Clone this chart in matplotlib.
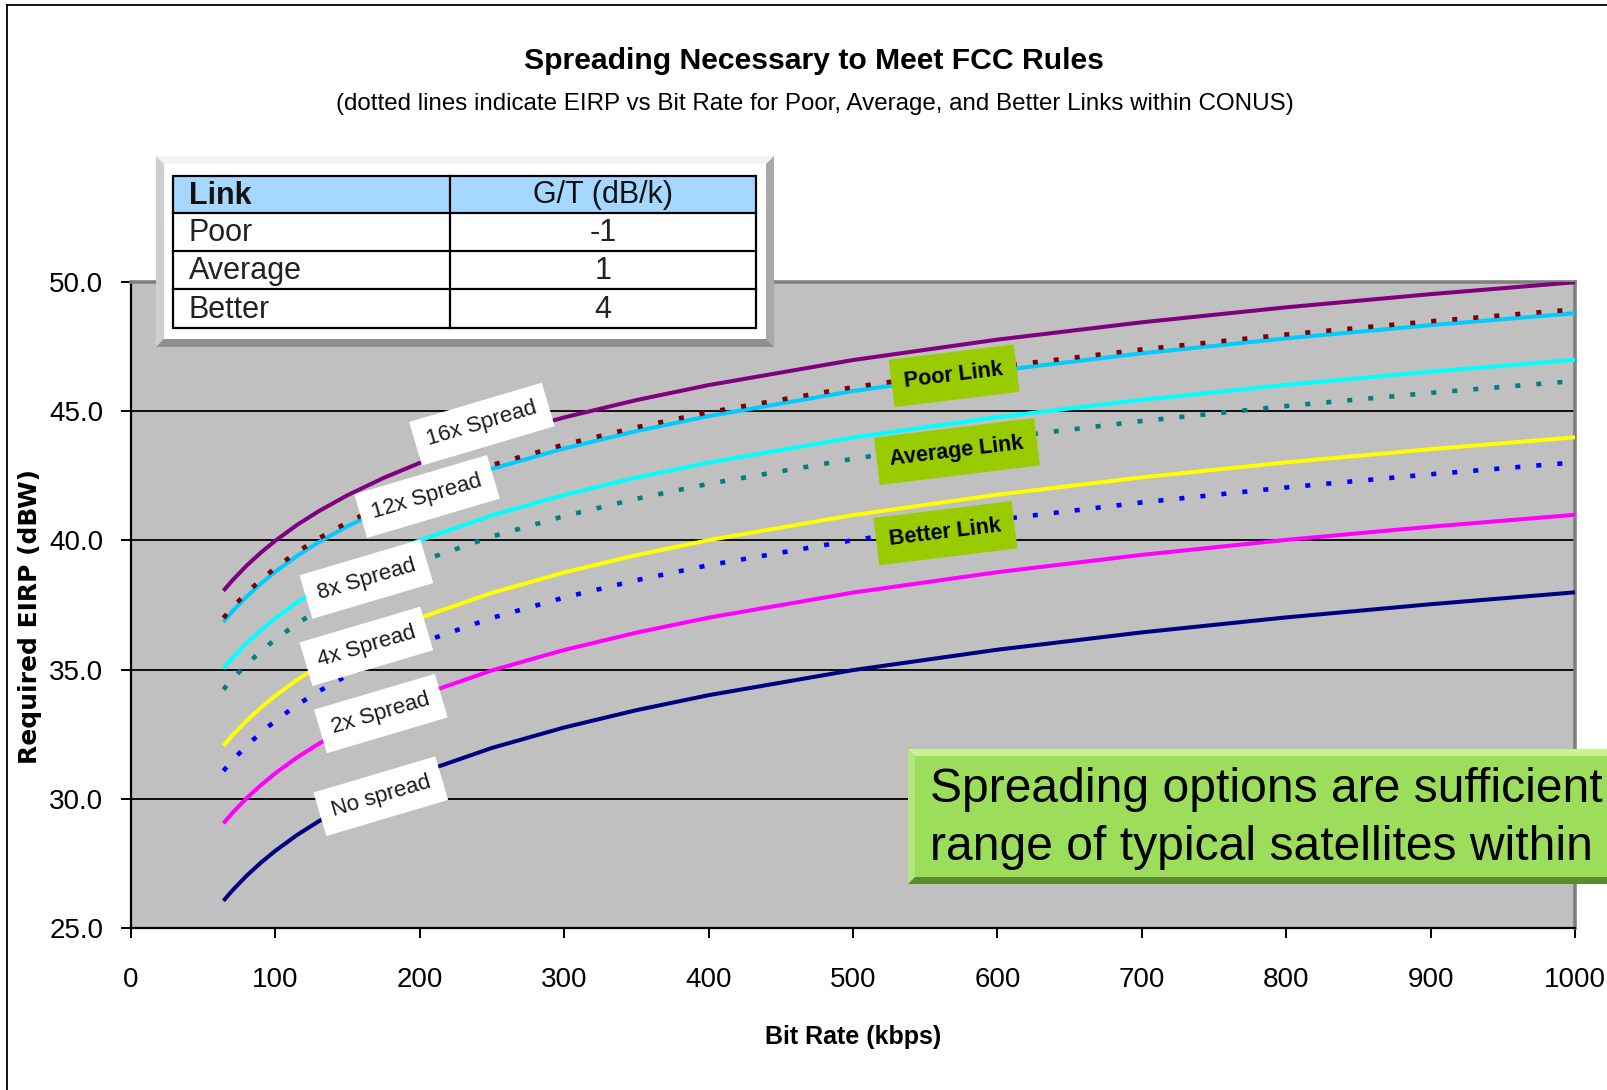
import numpy as np
import matplotlib
matplotlib.use("Agg")
import matplotlib.pyplot as plt
from matplotlib.patches import Rectangle, Polygon
from matplotlib.lines import Line2D
from matplotlib.ticker import FormatStrFormatter
from matplotlib import font_manager

# ---------------- data ----------------
bit_rate = [64, 70, 80, 90, 100, 115, 130, 150, 175, 200, 250, 300, 350, 400,
            500, 600, 700, 800, 900, 1000]

no_spread = [26.05, 26.44, 27.02, 27.53, 27.99, 28.60, 29.13, 29.75, 30.42, 31.00,
             31.97, 32.76, 33.43, 34.01, 34.98, 35.77, 36.44, 37.02, 37.53, 37.99]
spread_2x = [29.05, 29.44, 30.02, 30.53, 30.99, 31.60, 32.13, 32.75, 33.42, 34.00,
             34.97, 35.76, 36.43, 37.01, 37.98, 38.77, 39.44, 40.02, 40.53, 40.99]
spread_4x = [32.05, 32.44, 33.02, 33.53, 33.99, 34.60, 35.13, 35.75, 36.42, 37.00,
             37.97, 38.76, 39.43, 40.01, 40.98, 41.77, 42.44, 43.02, 43.53, 43.99]
spread_8x = [35.05, 35.44, 36.02, 36.53, 36.99, 37.60, 38.13, 38.75, 39.42, 40.00,
             40.97, 41.76, 42.43, 43.01, 43.98, 44.77, 45.44, 46.02, 46.53, 46.99]
spread_12x = [36.85, 37.24, 37.82, 38.33, 38.79, 39.40, 39.93, 40.55, 41.22, 41.80,
              42.77, 43.56, 44.23, 44.81, 45.78, 46.57, 47.24, 47.82, 48.33, 48.79]
spread_16x = [38.05, 38.44, 39.02, 39.53, 39.99, 40.60, 41.13, 41.75, 42.42, 43.00,
              43.97, 44.76, 45.43, 46.01, 46.98, 47.77, 48.44, 49.02, 49.53, 49.99]

poor_link = [37.00, 37.39, 37.97, 38.48, 38.94, 39.55, 40.08, 40.70, 41.37, 41.95,
             42.92, 43.71, 44.38, 44.96, 45.93, 46.72, 47.39, 47.97, 48.48, 48.94]
average_link = [34.23, 34.62, 35.20, 35.71, 36.17, 36.78, 37.31, 37.93, 38.60, 39.18,
                40.15, 40.94, 41.61, 42.19, 43.16, 43.95, 44.62, 45.20, 45.71, 46.17]
better_link = [31.08, 31.47, 32.05, 32.56, 33.02, 33.63, 34.16, 34.78, 35.45, 36.03,
               37.00, 37.79, 38.46, 39.04, 40.01, 40.80, 41.47, 42.05, 42.56, 43.02]

spread_names = ["No spread", "2x Spread", "4x Spread", "8x Spread", "12x Spread", "16x Spread"]
spread_colors = ["#000080", "#FF00FF", "#FFFF00", "#00FFFF", "#00CCFF", "#800080"]
spread_series = [no_spread, spread_2x, spread_4x, spread_8x, spread_12x, spread_16x]
# label anchor positions (bit rate, EIRP)
spread_label_pos = [(173, 30.1), (173, 33.3), (163, 35.9), (163, 38.5), (205, 41.7), (243, 44.5)]

link_names = ["Poor Link", "Average Link", "Better Link"]
link_colors = ["#800000", "#008080", "#0000FF"]
link_series = [poor_link, average_link, better_link]
link_label_pos = [(570, 46.37), (572, 43.44), (564, 40.28)]

table_links = ["Poor", "Average", "Better"]
table_gt = ["-1", "1", "4"]

title = "Spreading Necessary to Meet FCC Rules"
subtitle = "(dotted lines indicate EIRP vs Bit Rate for Poor, Average, and Better Links within CONUS)"
note_lines = ["Spreading options are sufficient to cover the",
              "range of typical satellites within CONUS"]

# ---------------- fonts ----------------
names = {f.name for f in font_manager.fontManager.ttflist}
if "Liberation Sans Narrow" in names:
    NARROW, NS = "Liberation Sans Narrow", 1.0
else:
    NARROW, NS = "Liberation Sans", 0.82
SANS = "Liberation Sans"

W, H = 1608, 1090
fig = plt.figure(figsize=(W / 100, H / 100), dpi=100)
fig.patch.set_facecolor("white")

# main axes: left 131, right 1575, top 282, bottom 928 (pixels)
ax = fig.add_axes([131 / W, 1 - 928 / H, (1575 - 131) / W, (928 - 282) / H])
ax.set_facecolor("#C0C0C0")
ax.set_xlim(0, 1000)
ax.set_ylim(25, 50)
ax.set_xticks(np.arange(0, 1001, 100))
ax.set_yticks(np.arange(25, 50.1, 5))
ax.yaxis.set_major_formatter(FormatStrFormatter("%.1f"))
ax.set_axisbelow(True)
ax.yaxis.grid(True, color="black", lw=1.3)
ax.xaxis.grid(False)
for s in ["left", "bottom"]:
    ax.spines[s].set_color("black")
    ax.spines[s].set_linewidth(1.6)
for s in ["top", "right"]:
    ax.spines[s].set_color("#808080")
    ax.spines[s].set_linewidth(2.6)
TICK_FS = 22 if NS == 1.0 else 20
ax.tick_params(axis="x", direction="out", length=7, width=1.4, pad=21,
               labelsize=TICK_FS, colors="black")
ax.tick_params(axis="y", direction="out", length=7, width=1.4, pad=13,
               labelsize=TICK_FS, colors="black")
for lab in ax.get_xticklabels() + ax.get_yticklabels():
    lab.set_fontfamily(NARROW)

for vals, c in zip(spread_series, spread_colors):
    ax.plot(bit_rate, vals, color=c, lw=2.9, solid_capstyle="butt", zorder=3)
for vals, c in zip(link_series, link_colors):
    ax.plot(bit_rate, vals, color=c, lw=3.3, linestyle=(0, (1.1, 3.5)),
            dash_capstyle="butt", zorder=3)

for name, (x, y) in zip(spread_names, spread_label_pos):
    ax.text(x, y, name, rotation=16.5, rotation_mode="anchor", ha="center", va="center",
            fontsize=16, family=SANS, color="#1a1a1a", zorder=6,
            bbox=dict(boxstyle="square,pad=0.55", fc="white", ec="none"))

for name, (x, y) in zip(link_names, link_label_pos):
    ax.text(x, y, name, rotation=7, rotation_mode="anchor", ha="center", va="center",
            fontsize=15.5, family=SANS, weight="bold", color="black", zorder=6,
            bbox=dict(boxstyle="square,pad=0.62", fc="#99CC00", ec="none"))

# ---------------- overlay for decorations (pixel coords) ----------------
ov = fig.add_axes([0, 0, 1, 1], zorder=5)
ov.set_xlim(0, W)
ov.set_ylim(H, 0)
ov.axis("off")
ov.patch.set_alpha(0)


def bevel(x0, y0, x1, y1, b, top, left, right, bottom, fill):
    ov.add_patch(Polygon([(x0, y0), (x1, y0), (x1 - b, y0 + b), (x0 + b, y0 + b)], closed=True, fc=top, ec="none"))
    ov.add_patch(Polygon([(x0, y0), (x0 + b, y0 + b), (x0 + b, y1 - b), (x0, y1)], closed=True, fc=left, ec="none"))
    ov.add_patch(Polygon([(x1, y0), (x1, y1), (x1 - b, y1 - b), (x1 - b, y0 + b)], closed=True, fc=right, ec="none"))
    ov.add_patch(Polygon([(x0, y1), (x1, y1), (x1 - b, y1 - b), (x0 + b, y1 - b)], closed=True, fc=bottom, ec="none"))
    ov.add_patch(Rectangle((x0 + b, y0 + b), x1 - x0 - 2 * b, y1 - y0 - 2 * b, fc=fill, ec="none"))


# table frame
bevel(156, 156, 774, 347, 8, "#F4F4F4", "#CFCFCF", "#A9A9A9", "#8F8F8F", "white")
tx0, tx1, ty0, ty1, tdiv = 173, 756, 176, 328, 450
rows = [176, 213, 251, 289, 328]
ov.add_patch(Rectangle((tx0, rows[0]), tx1 - tx0, rows[1] - rows[0], fc="#A6D8FF", ec="none"))
ov.add_patch(Rectangle((tx0, ty0), tx1 - tx0, ty1 - ty0, fc="none", ec="black", lw=1.6))
for r in rows[1:-1]:
    ov.plot([tx0, tx1], [r, r], color="black", lw=1.6)
ov.plot([tdiv, tdiv], [ty0, ty1], color="black", lw=1.6)
TFS = 22
ov.text(189, (rows[0] + rows[1]) / 2 + 1, "Link", fontsize=TFS, family=SANS, weight="bold",
        ha="left", va="center", color="#111111")
ov.text((tdiv + tx1) / 2, (rows[0] + rows[1]) / 2 + 1, "G/T (dB/k)", fontsize=TFS, family=SANS,
        ha="center", va="center", color="#111111")
for i, (lk, gt) in enumerate(zip(table_links, table_gt)):
    yc = (rows[i + 1] + rows[i + 2]) / 2 + 1
    ov.text(189, yc, lk, fontsize=TFS, family=SANS, ha="left", va="center", color="#222222")
    ov.text((tdiv + tx1) / 2, yc, gt, fontsize=TFS, family=SANS, ha="center", va="center", color="#222222")

# green note box (runs off the right edge like the reference)
bevel(908, 749, 1660, 884, 7, "#C8F290", "#B4E67C", "#7FB04A", "#5C8A2E", "#9CDD5B")
ov.text(930, 790, note_lines[0], fontsize=34.6, family=SANS, ha="left", va="center",
        color="black", clip_on=True)
ov.text(930, 848, note_lines[1], fontsize=34.6, family=SANS, ha="left", va="center",
        color="black", clip_on=True)

# ---------------- titles and axis labels ----------------
fig.text(814 / W, 1 - 61 / H, title, ha="center", va="center", fontsize=26.5 * NS,
         family=NARROW, weight="bold", color="black")
fig.text(815 / W, 1 - 104 / H, subtitle, ha="center", va="center", fontsize=21.2 * NS,
         family=NARROW, color="black")
fig.text(853 / W, 1 - 1037 / H, "Bit Rate (kbps)", ha="center", va="center",
         fontsize=22 * NS, family=NARROW, weight="bold", color="black")
fig.text(30 / W, 1 - 616 / H, "Required EIRP (dBW)", ha="center", va="center", rotation=90,
         fontsize=18, family="DejaVu Sans", weight="bold", color="black")

# outer frame lines (left and top edges)
fig.add_artist(Line2D([7 / W, 7 / W], [0, 1 - 5 / H], transform=fig.transFigure, color="black", lw=1.3))
fig.add_artist(Line2D([7 / W, 1], [1 - 5 / H, 1 - 5 / H], transform=fig.transFigure, color="black", lw=1.3))

fig.savefig("out.png", dpi=100)
